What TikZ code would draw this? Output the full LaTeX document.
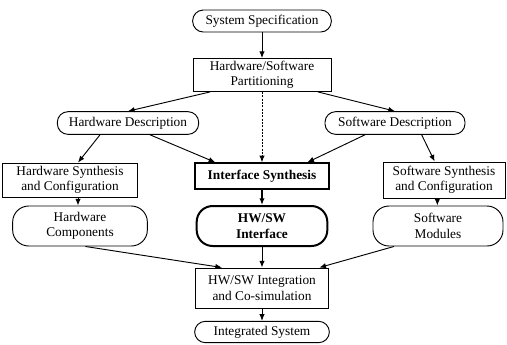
\documentclass[tikz,border=0pt]{standalone}
\usepackage{fontspec}
\setmainfont{Liberation Serif}
\usetikzlibrary{arrows.meta}

\begin{document}
\begin{tikzpicture}[
  x=0.75pt,
  y=-0.75pt,
  inner sep=2pt,
  font=\fontsize{10}{11.5}\selectfont,
  box/.style={
    draw,
    line width=0.7pt,
    align=center
  },
  pill/.style={
    box,
    rounded corners=8pt
  },
  tall pill/.style={
    box,
    rounded corners=12pt,
    minimum height=30pt
  },
  strong/.style={
    line width=1.5pt,
    font=\fontsize{10}{11.5}\selectfont\bfseries
  },
  a/.style={
    -{Latex[length=5pt,width=4pt]},
    line width=0.7pt
  }
  ]

  \useasboundingbox (0,0) rectangle (507,344);

  \node (spec) [pill,minimum width=104pt,minimum height=16.5pt] at (262,21) {System Specification};
  \node (part) [box,minimum width=103.5pt,minimum height=22pt] at (262,75) {Hardware/Software\\Partitioning};
  \node (hwdesc) [pill,minimum width=106pt,minimum height=17pt] at (128,123) {Hardware Description};
  \node (swdesc) [pill,minimum width=105pt,minimum height=17pt] at (395,123) {Software Description};
  \node (hwsyn) [box,minimum width=101pt,minimum height=25.5pt] at (70,180) {Hardware Synthesis\\and Configuration};
  \node (ifsyn) [box,strong,minimum width=100pt,minimum height=19pt] at (262,176) {Interface Synthesis};
  \node (swsyn) [box,minimum width=91.5pt,minimum height=27pt] at (444,180) {Software Synthesis\\and Configuration};
  \node (hwcomp) [tall pill,minimum width=101pt] at (80,226) {Hardware\\Components};
  \node (hwsw) [tall pill,strong,minimum width=98pt] at (262,226) {HW/SW\\Interface};
  \node (swmod) [tall pill,minimum width=97.5pt] at (438,226) {Software\\Modules};
  \node (integ) [box,minimum width=100pt,minimum height=30pt] at (262,288) {HW/SW Integration\\and Co-simulation};
  \node (intsys) [pill,minimum width=101pt,minimum height=16pt] at (262,332) {Integrated System};

  \draw [a] (spec) -- (part);
  \draw [a] ([xshift=-39pt]part.south) -- (hwdesc.north);
  \draw [a] ([xshift=42pt]part.south) -- (swdesc.north);
  \draw [a,dash pattern=on 1.5pt off 1pt] (part.south) -- (ifsyn.north);
  \draw [a] ([xshift=-21pt]hwdesc.south) -- ([xshift=6pt]hwsyn.north);
  \draw [a] ([xshift=16.5pt]hwdesc.south) -- ([xshift=-35pt]ifsyn.north);
  \draw [a] ([xshift=-22.5pt]swdesc.south) -- ([xshift=34pt]ifsyn.north);
  \draw [a] ([xshift=20pt]swdesc.south) -- ([xshift=-7pt]swsyn.north);
  \draw [a] ([xshift=6pt]hwsyn.south) -- ([xshift=6pt]hwsyn.south |- hwcomp.north);
  \draw [a,line width=1.5pt] (ifsyn) -- (hwsw);
  \draw [a] ([xshift=-5pt]swsyn.south) -- ([xshift=-5pt]swsyn.south |- swmod.north);
  \draw [a] ([xshift=4pt]hwcomp.south) -- ([xshift=-30pt]integ.north);
  \draw [a] (hwsw) -- (integ);
  \draw [a] ([xshift=-33pt]swmod.south) -- ([xshift=43pt]integ.north);
  \draw [a] (integ) -- (intsys);
\end{tikzpicture}
\end{document}
